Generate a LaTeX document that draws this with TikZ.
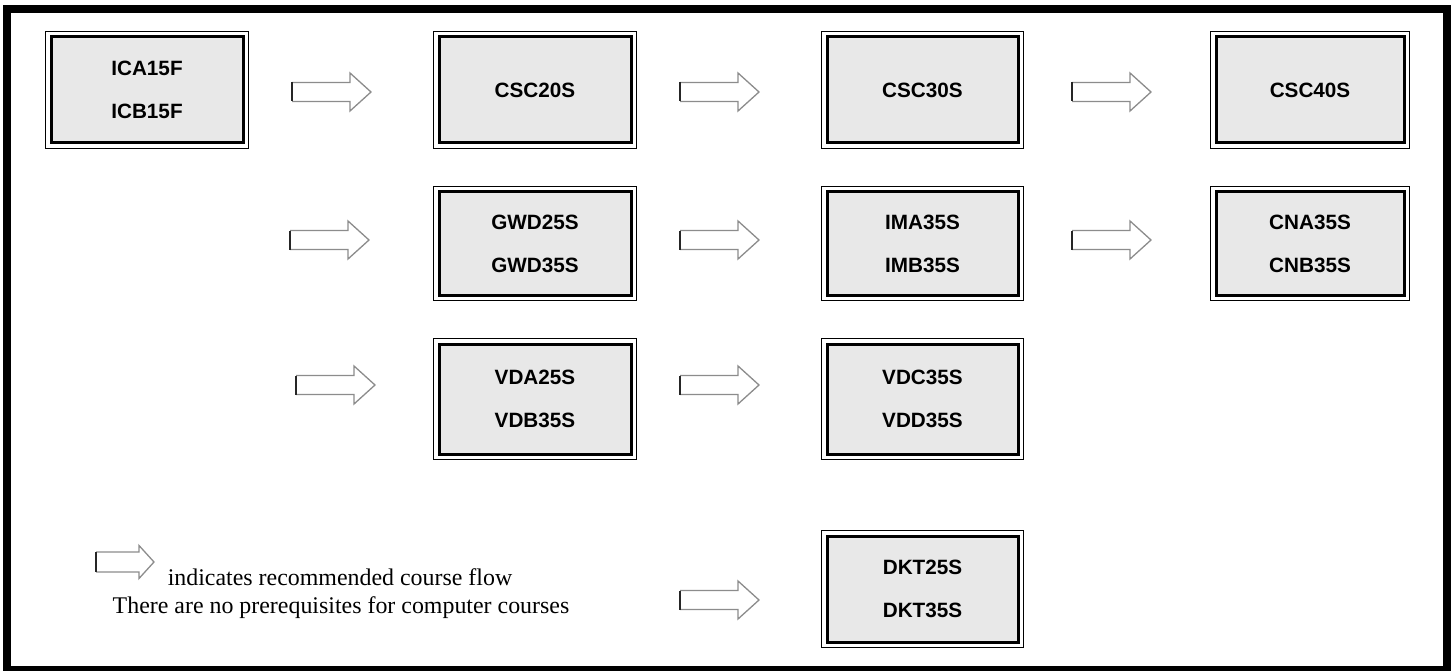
\documentclass[tikz,border=0pt]{standalone}
\usepackage{fontspec}
\setmainfont{Liberation Serif}
\newfontfamily\labelfont{Liberation Sans}
\usetikzlibrary{calc}

\definecolor{boxgrey}{HTML}{E8E8E8}
\definecolor{arrowgrey}{HTML}{8C8C8C}

\tikzset{
  coursebox/.style={draw=black, line width=3pt, fill=boxgrey, rectangle,
    inner sep=0pt, align=center,
    font=\labelfont\bfseries\fontsize{20.7}{43}\selectfont},
  thinframe/.style={draw=black, line width=1.1pt},
  arrowline/.style={draw=arrowgrey, line width=1.3pt, line join=miter},
  arrowedge/.style={draw=black!85, line width=1.6pt},
  legendtext/.style={font=\fontsize{23.9}{28}\selectfont, inner sep=0pt, anchor=base},
  pics/flowarrow/.style={code={
    \draw[arrowline] (0,-9.5) -- (58,-9.5) -- (58,-19) -- (79,0) -- (58,19) -- (58,9.5) -- (0,9.5);
    \draw[arrowedge] (0,-9.5) -- (0,9.5);
  }},
  pics/legendarrow/.style={code={
    \draw[arrowline] (0,-10) -- (43,-10) -- (43,-16.5) -- (58,0) -- (43,16.5) -- (43,10) -- (0,10);
    \draw[arrowedge] (0,-10) -- (0,10);
  }}
}

% course box: name, left, top, right, bottom (outer thin frame), text
\newcommand\coursebox[6]{%
  \node[coursebox, minimum width={#4-#2-8}, minimum height={#5-#3-8}]
    (#1) at ({(#2+#4)/2},{(#3+#5)/2}) {#6};
  \draw[thinframe] ([shift={(-4,-4)}]#1.north west) rectangle ([shift={(4,4)}]#1.south east);
}

\begin{document}
\begin{tikzpicture}[x=1pt,y=-1pt]
\useasboundingbox (0,0) rectangle (1453,671);
\fill[white] (0,0) rectangle (1453,671);

% page frame
\draw[line width=8pt] (7,9) rectangle (1447,670);

% row 1
\coursebox{ica}{47}{33}{247}{147}{ICA15F\\ICB15F}
\coursebox{csctwo}{435}{33}{635}{147}{CSC20S}
\coursebox{cscthree}{823}{33}{1022}{147}{CSC30S}
\coursebox{cscfour}{1212}{33}{1408}{147}{CSC40S}

% row 2
\coursebox{gwd}{435}{188}{635}{299}{GWD25S\\GWD35S}
\coursebox{ima}{823}{188}{1022}{299}{IMA35S\\IMB35S}
\coursebox{cna}{1212}{188}{1408}{299}{CNA35S\\CNB35S}

% row 3
\coursebox{vda}{435}{340}{635}{458}{VDA25S\\VDB35S}
\coursebox{vdc}{823}{340}{1022}{458}{VDC35S\\VDD35S}

% row 4
\coursebox{dkt}{823}{532}{1022}{646}{DKT25S\\DKT35S}

% flow arrows
\pic at (292,92) {flowarrow};
\pic at (680,92) {flowarrow};
\pic at (1072,92) {flowarrow};
\pic at (290,240) {flowarrow};
\pic at (680,240) {flowarrow};
\pic at (1072,240) {flowarrow};
\pic at (296,385) {flowarrow};
\pic at (680,385) {flowarrow};
\pic at (680,600) {flowarrow};

% legend
\pic at (96,562) {legendarrow};
\node[legendtext] (leg1) at (340,585) {indicates recommended course flow};
\node[legendtext] (leg2) at (341,613) {There are no prerequisites for computer courses};
\end{tikzpicture}
\end{document}
